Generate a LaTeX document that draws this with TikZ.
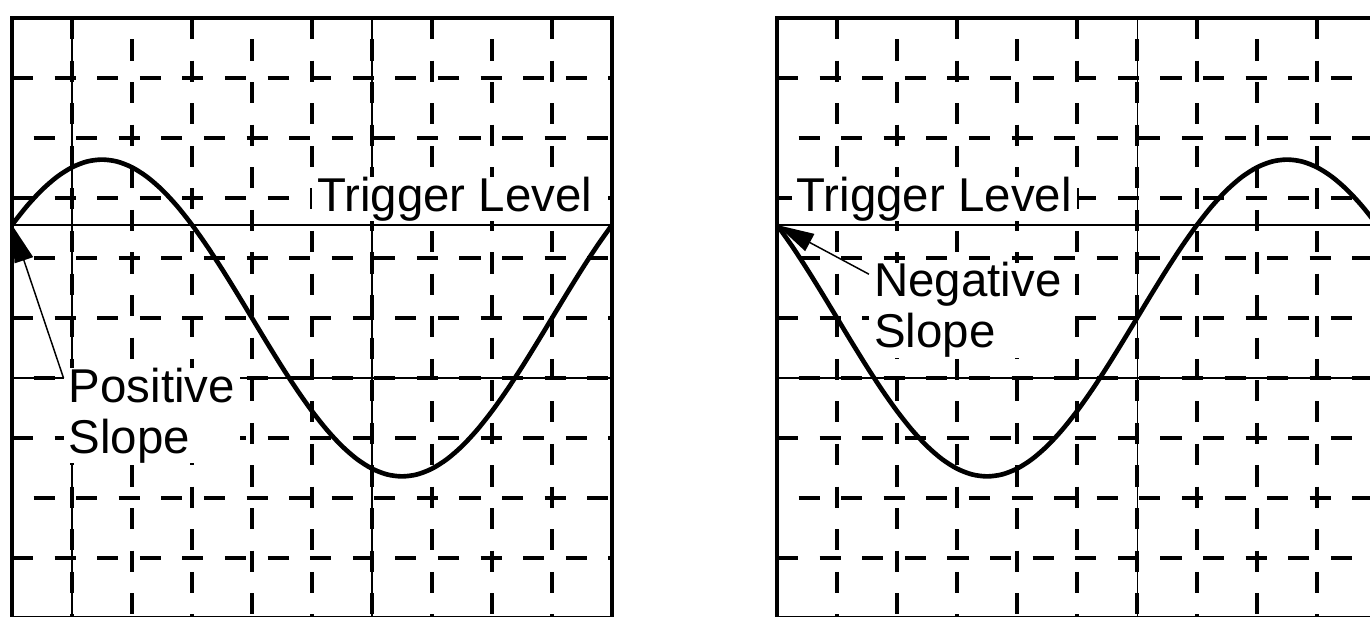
\documentclass[tikz,border=0pt]{standalone}
\usepackage{fontspec}
\setmainfont{Liberation Sans}
\usetikzlibrary{arrows.meta}

\begin{document}
\begin{tikzpicture}[
  gridline/.style={line width=1.8pt, dash pattern=on 10pt off 10.2pt},
  fineline/.style={line width=0.5pt},
  trace/.style={line width=2.2pt, line join=round},
  captionbox/.style={fill=white, inner xsep=0.08cm, inner ysep=0pt,
    font=\fontsize{22.5pt}{24.2pt}\selectfont},
  pointer/.style={line width=0.7pt, -{Triangle[length=0.62cm,width=0.32cm]}}
]

\useasboundingbox (-0.2,0.0333) rectangle (22.633,10.3);

% thin lines under some of the dashed lines
\draw[fineline] (1,10) -- (1,0);
\draw[fineline] (6,10) -- (6,0);
\draw[fineline] (0,4) -- (10,4);
\draw[fineline] (18.75,10) -- (18.75,0);
\draw[fineline] (12.75,4) -- (22.75,4);

% the two screens: shift and start phase of the trace
\foreach \s/\p in {0/36,12.75/144}{
\begin{scope}[xshift=\s cm]
  \foreach \k in {1,...,9}{
    \pgfmathsetmacro\ph{mod(\k+1,2)*10}
    \draw[gridline, dash phase=\ph pt] (\k,10) -- (\k,0);
    \draw[gridline, dash phase=\ph pt] (0,10-\k) -- (10,10-\k);
  }
  \draw[fineline] (0,6.55) -- (10,6.55);
  \draw[trace] plot[domain=0:10, samples=41, smooth] (\x,{5+2.64*sin(\p+36*\x)});
  \draw[line width=2pt] (0,0) rectangle (10,10);
\end{scope}
}

\coordinate (posX) at (0,6.55);
\coordinate (negX) at (12.75,6.55);

\node[captionbox] (trigL) at (7.38,6.98) {Trigger Level};
\node[captionbox] (trigR) at (15.37,6.98) {Trigger Level};
\node[captionbox, align=left] (posSlope) at (2.33,3.375) {Positive\\Slope};
\node[captionbox, align=left] (negSlope) at (15.93,5.13) {Negative\\Slope};

\draw[pointer] (posSlope.157) -- (posX);
\draw[pointer] (negSlope.160) -- (negX);

\end{tikzpicture}
\end{document}
